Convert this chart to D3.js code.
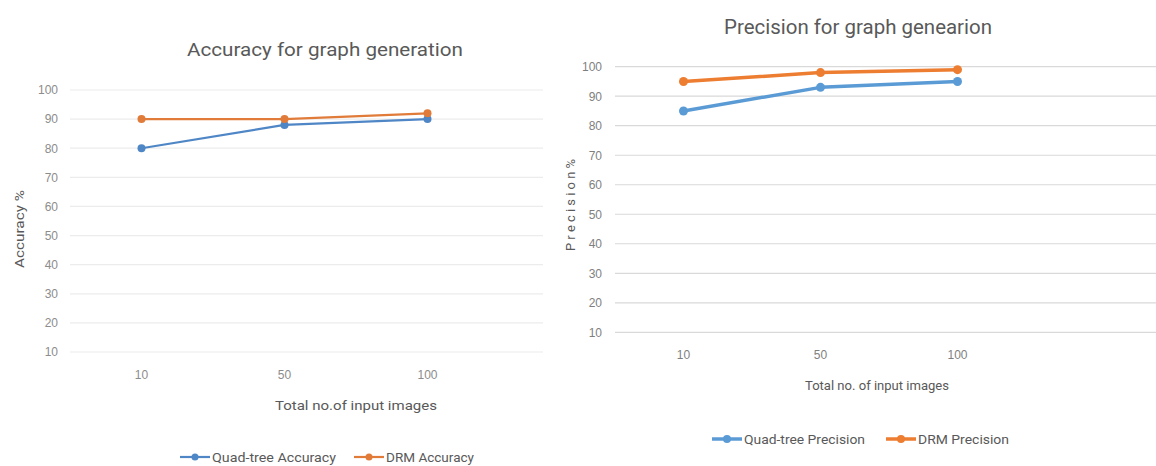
<!DOCTYPE html>
<html><head><meta charset="utf-8">
<script src="https://cdn.jsdelivr.net/npm/d3@7"></script>
<style>
body{margin:0;background:#fff;}
svg{display:block;font-family:"Liberation Sans Narrow","Roboto","Noto Sans",sans-serif;}
</style></head>
<body><svg id="c" width="1156" height="466"></svg>
<script>
const categories = ["10", "50", "100"];
const yTicks = [10, 20, 30, 40, 50, 60, 70, 80, 90, 100];
const accQuad = [80, 88, 90];
const accDRM = [90, 90, 92];
const precQuad = [85, 93, 95];
const precDRM = [95, 98, 99];

const svg = d3.select("#c");
const BLUE = "#5b9bd5", ORANGE = "#ed7d31";

function chart(o) {
  const g = svg.append("g");
  const x = d3.scaleBand().domain(categories).range([o.x0, o.x0 + o.step * categories.length]);
  const y = d3.scaleLinear().domain([10, 100]).range([o.yBottom, o.yTop]);
  g.selectAll("line.grid").data(yTicks).join("line")
    .attr("x1", o.x0).attr("x2", o.gridEnd)
    .attr("y1", d => y(d)).attr("y2", d => y(d))
    .attr("stroke", o.gridColor).attr("stroke-width", 1.2);
  const ya = g.append("g").attr("transform", `translate(${o.labelRight},0)`)
    .call(d3.axisLeft(y).tickValues(yTicks).tickSize(0).tickPadding(0));
  ya.select(".domain").remove();
  ya.selectAll("text").attr("fill", o.tickColor).attr("font-size", o.tickFont).attr("font-family", "inherit");
  const xa = g.append("g").attr("transform", `translate(0,${o.xLabelY})`)
    .call(d3.axisBottom(x).tickSize(0).tickPadding(0));
  xa.select(".domain").remove();
  xa.selectAll("text").attr("fill", o.tickColor).attr("font-size", o.tickFont).attr("font-family", "inherit");
  const cx = c => x(c) + x.bandwidth() / 2;
  o.series.forEach(s => {
    const pts = categories.map((c, i) => [cx(c), y(s.values[i])]);
    g.append("path").attr("d", d3.line()(pts)).attr("fill", "none")
      .attr("stroke", s.color).attr("stroke-width", o.lineW).attr("stroke-linejoin", "round");
    g.selectAll(null).data(pts).join("circle")
      .attr("cx", d => d[0]).attr("cy", d => d[1]).attr("r", o.r).attr("fill", s.color);
  });
  g.append("text").attr("x", o.titleX).attr("y", o.titleY).attr("text-anchor", "middle")
    .attr("font-size", o.titleFont).attr("fill", "#595959")
    .attr("textLength", o.titleLen).attr("lengthAdjust", "spacingAndGlyphs").text(o.title);
  g.append("text").attr("x", o.xTitleX).attr("y", o.xTitleY).attr("text-anchor", "middle")
    .attr("font-size", 13).attr("fill", "#595959")
    .attr("textLength", o.xTitleLen).attr("lengthAdjust", "spacingAndGlyphs").text(o.xTitle);
  g.append("text").attr("transform", `translate(${o.yTitleX},${o.yTitleY}) rotate(-90)`)
    .attr("text-anchor", "middle").attr("font-size", 13).attr("fill", "#595959")
    .attr("textLength", o.yTitleLen).attr("lengthAdjust", "spacingAndGlyphs").text(o.yTitle);
  o.series.forEach((s, i) => {
    const lx = o.legend[i];
    g.append("line").attr("x1", lx).attr("x2", lx + 30).attr("y1", o.legendY).attr("y2", o.legendY)
      .attr("stroke", s.color).attr("stroke-width", o.lineW);
    g.append("circle").attr("cx", lx + 15).attr("cy", o.legendY).attr("r", o.r - 0.5).attr("fill", s.color);
    g.append("text").attr("x", lx + 32).attr("y", o.legendY + 4.5).attr("font-size", 13).attr("fill", "#595959")
      .attr("textLength", o.legendLen[i]).attr("lengthAdjust", "spacingAndGlyphs").text(s.name);
  });
}

chart({
  x0: 70, step: 143, gridEnd: 543, yTop: 90, yBottom: 352,
  labelRight: 58, xLabelY: 370, tickFont: 12, tickColor: "#8c8c8c", gridColor: "#ececec",
  lineW: 2.2, r: 4,
  title: "Accuracy  for graph generation", titleX: 325, titleY: 56, titleFont: 19, titleLen: 276,
  xTitle: "Total no.of input images", xTitleX: 356, xTitleY: 410, xTitleLen: 162,
  yTitle: "Accuracy %", yTitleX: 24, yTitleY: 229, yTitleLen: 78,
  legend: [180, 354], legendY: 457, legendLen: [124, 88],
  series: [
    { name: "Quad-tree Accuracy", values: accQuad, color: "#4f86c6" },
    { name: "DRM Accuracy", values: accDRM, color: "#e07b3a" }
  ]
});

chart({
  x0: 615, step: 137, gridEnd: 1156, yTop: 66.7, yBottom: 332.3,
  labelRight: 602, xLabelY: 350, tickFont: 12, tickColor: "#7f7f7f", gridColor: "#d9d9d9",
  lineW: 3.5, r: 4.5,
  title: "Precision for graph genearion", titleX: 858, titleY: 34, titleFont: 21, titleLen: 268,
  xTitle: "Total no. of input images", xTitleX: 877, xTitleY: 390, xTitleLen: 144,
  yTitle: "P r e c i s i o n %", yTitleX: 575, yTitleY: 205, yTitleLen: 92,
  legend: [712, 886], legendY: 439, legendLen: [121, 91],
  series: [
    { name: "Quad-tree Precision", values: precQuad, color: BLUE },
    { name: "DRM Precision", values: precDRM, color: ORANGE }
  ]
});
</script></body></html>
